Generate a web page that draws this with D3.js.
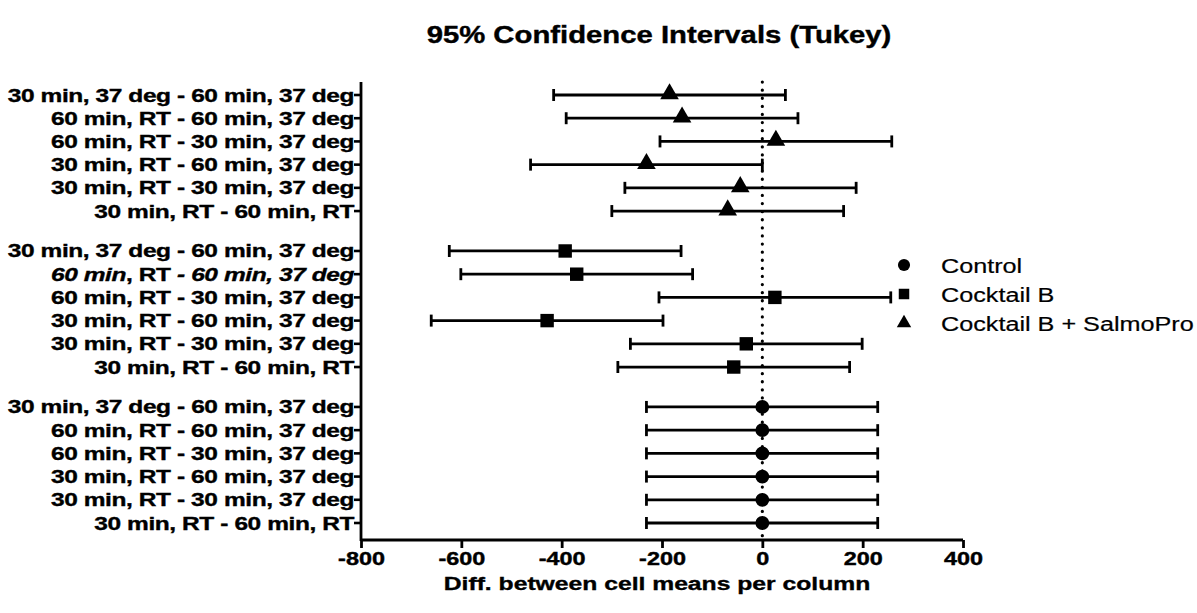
<!DOCTYPE html>
<html>
<head>
<meta charset="utf-8">
<script src="https://cdn.jsdelivr.net/npm/d3@7"></script>
<style>
  html, body { margin: 0; padding: 0; background: #fff; }
  svg { display: block; }
  text { font-family: "Liberation Sans", Arial, sans-serif; fill: #000; }
</style>
</head>
<body>
<svg id="chart" width="1197" height="613"></svg>
<script>
// Comparisons, listed top to bottom inside each group
const comparisons = [
  "30 min, 37 deg - 60 min, 37 deg",
  "60 min, RT - 60 min, 37 deg",
  "60 min, RT - 30 min, 37 deg",
  "30 min, RT - 60 min, 37 deg",
  "30 min, RT - 30 min, 37 deg",
  "30 min, RT - 60 min, RT"
];

// Groups, top to bottom
const groups = ["Cocktail B + SalmoPro", "Cocktail B", "Control"];
const legendOrder = ["Control", "Cocktail B", "Cocktail B + SalmoPro"];

// Mean differences and 95% CI bounds per group (same order as comparisons)
const salmoMean  = [-185, -160,  27, -231, -44, -69];
const salmoLow   = [-416, -391, -204, -462, -274, -300];
const salmoHigh  = [  46,   71,  258,    0,  187,  162];

const cocktailMean = [-393, -370,  25, -429, -32, -57];
const cocktailLow  = [-624, -601, -206, -660, -263, -288];
const cocktailHigh = [-162, -139,  256, -198,  199,  174];

const controlMean = [0, 0, 0, 0, 0, 0];
const controlLow  = [-231, -231, -231, -231, -231, -231];
const controlHigh = [ 230,  230,  230,  230,  230,  230];

const xTicks = [-800, -600, -400, -200, 0, 200, 400];

const seriesValues = {
  "Cocktail B + SalmoPro": { mean: salmoMean, low: salmoLow, high: salmoHigh },
  "Cocktail B": { mean: cocktailMean, low: cocktailLow, high: cocktailHigh },
  "Control": { mean: controlMean, low: controlLow, high: controlHigh }
};

// Flatten into rows with a vertical slot index (gap between groups)
const groupGap = 1.72;
const rows = [];
groups.forEach((g, gi) => {
  comparisons.forEach((c, ci) => {
    const v = seriesValues[g];
    rows.push({
      group: g, label: c,
      slot: gi * (comparisons.length - 1 + groupGap) + ci,
      mean: v.mean[ci], low: v.low[ci], high: v.high[ci]
    });
  });
});
const lastSlot = d3.max(rows, d => d.slot);

const svg = d3.select("#chart");
const plot = { left: 361, right: 963, top: 82, bottom: 540 };

const x = d3.scaleLinear().domain([-800, 400]).range([plot.left, plot.right]);
const y = d3.scaleLinear().domain([0, lastSlot]).range([95, 523]);

// Heavy, wide text: draw at (px, py) and stretch horizontally by sx
function wideText(parent, px, py, sx, anchor) {
  return parent.append("text")
    .attr("transform", `translate(${px},${py}) scale(${sx},1)`)
    .attr("text-anchor", anchor);
}

// Title
wideText(svg, 659, 43, 1.22, "middle")
  .style("font-size", "24px").style("font-weight", "bold")
  .style("stroke", "#000").style("stroke-width", 0.4)
  .text("95% Confidence Intervals (Tukey)");

// Zero reference line (dotted)
svg.append("line")
  .attr("x1", x(0)).attr("x2", x(0))
  .attr("y1", plot.top).attr("y2", plot.bottom)
  .attr("stroke", "#000").attr("stroke-width", 3.2)
  .attr("stroke-linecap", "round")
  .attr("stroke-dasharray", "0.1 8");

// Bottom axis
const xAxis = d3.axisBottom(x).tickValues(xTicks).tickSize(8).tickPadding(5).tickFormat(d3.format("d"));
const gx = svg.append("g")
  .attr("transform", `translate(0,${plot.bottom})`)
  .call(xAxis);
gx.select(".domain").attr("stroke", "#000").attr("stroke-width", 2.8)
  .attr("d", `M${plot.left},0H${plot.right}`);
gx.selectAll(".tick line").attr("stroke", "#000").attr("stroke-width", 2.8);
gx.selectAll(".tick text").remove();
gx.selectAll(".tick").each(function(d) {
  wideText(d3.select(this), 0, 25, 1.3, "middle")
    .style("font-size", "18px").style("font-weight", "bold")
    .style("stroke", "#000").style("stroke-width", 0.4)
    .text(d < 0 ? "-" + Math.abs(d) : d);
});

// Left axis with row labels
svg.append("line")
  .attr("x1", plot.left).attr("x2", plot.left)
  .attr("y1", plot.top).attr("y2", plot.bottom + 1)
  .attr("stroke", "#000").attr("stroke-width", 2.8);

const yTicks = svg.append("g");
yTicks.selectAll("line").data(rows).join("line")
  .attr("x1", plot.left - 7).attr("x2", plot.left)
  .attr("y1", d => y(d.slot)).attr("y2", d => y(d.slot))
  .attr("stroke", "#000").attr("stroke-width", 2.6);

const labelScale = 1.36;
yTicks.selectAll("text").data(rows).join("text")
  .attr("transform", d => `translate(${plot.left - 7},${y(d.slot) + 6.5}) scale(${labelScale},1)`)
  .attr("text-anchor", "end")
  .style("font-size", "18px").style("font-weight", "bold")
  .style("stroke", "#000").style("stroke-width", 0.35)
  .style("letter-spacing", "-0.3px")
  .each(function(d) {
    const t = d3.select(this);
    if (d.group === "Cocktail B" && d.label === "60 min, RT - 60 min, 37 deg") {
      t.append("tspan").style("font-style", "italic").text("60 min");
      t.append("tspan").text(", RT ");
      t.append("tspan").style("font-style", "italic").text("- 60 min, 37 deg");
    } else {
      t.text(d.label);
    }
  });

// Error bars
const bars = svg.append("g");
bars.selectAll("line.ci").data(rows).join("line")
  .attr("class", "ci")
  .attr("x1", d => x(d.low)).attr("x2", d => x(d.high))
  .attr("y1", d => y(d.slot)).attr("y2", d => y(d.slot))
  .attr("stroke", "#000").attr("stroke-width", 2.8);
["low", "high"].forEach(k => {
  bars.selectAll("line.cap-" + k).data(rows).join("line")
    .attr("class", "cap-" + k)
    .attr("x1", d => x(d[k])).attr("x2", d => x(d[k]))
    .attr("y1", d => y(d.slot) - 6).attr("y2", d => y(d.slot) + 6)
    .attr("stroke", "#000").attr("stroke-width", 2.8);
});

// Markers
const symbolFor = {
  "Control": d3.symbol().type(d3.symbolCircle).size(150),
  "Cocktail B": d3.symbol().type(d3.symbolSquare).size(180),
  "Cocktail B + SalmoPro": d3.symbol().type(d3.symbolTriangle).size(150)
};
bars.selectAll("path.marker").data(rows).join("path")
  .attr("class", "marker")
  .attr("transform", d => `translate(${x(d.mean)},${y(d.slot) - (d.group === "Cocktail B + SalmoPro" ? 1 : 0)})`)
  .attr("d", d => symbolFor[d.group]())
  .attr("fill", "#000");

// Legend
const legendSymbol = {
  "Control": d3.symbol().type(d3.symbolCircle).size(115),
  "Cocktail B": d3.symbol().type(d3.symbolSquare).size(110),
  "Cocktail B + SalmoPro": d3.symbol().type(d3.symbolTriangle).size(90)
};
const legend = svg.append("g");
legendOrder.forEach((g, i) => {
  const ly = 265 + i * 29;
  legend.append("path")
    .attr("transform", `translate(904,${ly})`)
    .attr("d", legendSymbol[g]())
    .attr("fill", "#000");
  wideText(legend, 941, ly + 7.5, 1.2, "start")
    .style("font-size", "21px")
    .style("stroke", "#000").style("stroke-width", 0.2)
    .text(g);
});

// X axis title
wideText(svg, 657, 590, 1.3, "middle")
  .style("font-size", "19px").style("font-weight", "bold")
  .style("stroke", "#000").style("stroke-width", 0.35)
  .text("Diff. between cell means per column");
</script>
</body>
</html>
